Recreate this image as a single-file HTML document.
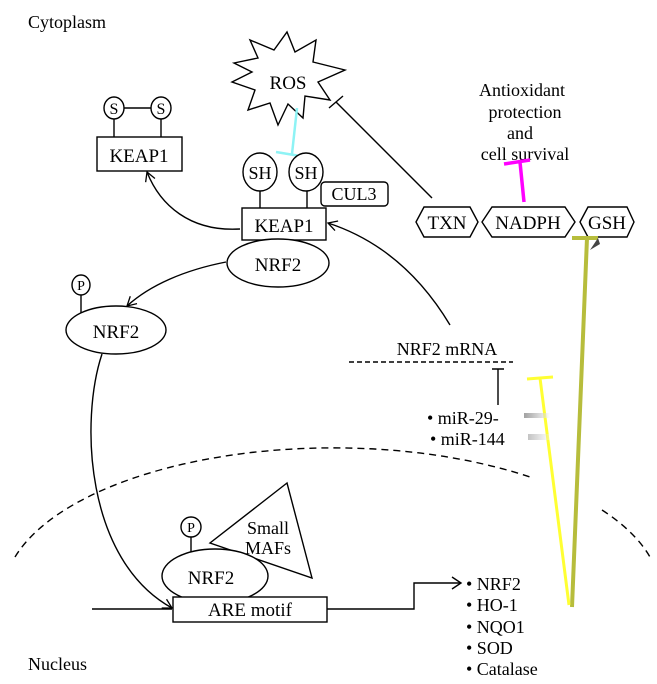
<!DOCTYPE html>
<html><head><meta charset="utf-8"><style>
html,body{margin:0;padding:0;background:#fff;}
svg{display:block;}
text{font-family:"Liberation Serif",serif;fill:#000;}
</style></head><body>
<svg width="657" height="684" viewBox="0 0 657 684">
<defs>
<marker id="ah" markerWidth="12" markerHeight="12" refX="10" refY="6" orient="auto" markerUnits="userSpaceOnUse">
<path d="M1,1 L10,6 L1,11" fill="none" stroke="#000" stroke-width="1.3"/>
</marker>
<linearGradient id="smudge" x1="0" x2="1" y1="0" y2="0">
<stop offset="0" stop-color="#555"/><stop offset="1" stop-color="#fff"/>
</linearGradient>
</defs>
<g stroke="#000" stroke-width="1.4" fill="none">
<text x="28" y="28" font-size="18" stroke="none">Cytoplasm</text>
<g>
<path d="M234,63 L258,58 L250,40 L274,50 L287,32 L295,52 L316,40 L313,62 L345,70 L318,82 L330,100 L305,96 L303,118 L288,104 L278,125 L270,103 L248,110 L255,90 L232,82 L252,72 Z" fill="#fff"/>
<text x="288" y="89" font-size="19" stroke="none" text-anchor="middle">ROS</text>
</g>
<path d="M432,198 L336,102"/>
<path d="M329,108 L343,96"/>
<path d="M297,108 L292,154 M276,152 L300,156" stroke="#8ef3f5" stroke-width="2.5"/>
<g>
<rect x="97" y="137" width="85" height="34" fill="#fff"/>
<text x="139" y="162" font-size="19" stroke="none" text-anchor="middle">KEAP1</text>
<line x1="114" y1="118" x2="114" y2="137"/><line x1="161" y1="118" x2="161" y2="137"/>
<line x1="123" y1="108" x2="152" y2="108"/>
<ellipse cx="114" cy="108" rx="10" ry="11" fill="#fff"/><ellipse cx="161" cy="108" rx="10" ry="11" fill="#fff"/>
<text x="114" y="114" font-size="16" stroke="none" text-anchor="middle">S</text>
<text x="161" y="114" font-size="16" stroke="none" text-anchor="middle">S</text>
</g>
<g>
<line x1="260" y1="190" x2="260" y2="208"/><line x1="307" y1="190" x2="307" y2="208"/>
<ellipse cx="260" cy="172" rx="17" ry="19" fill="#fff"/><ellipse cx="306" cy="172" rx="17" ry="19" fill="#fff"/>
<text x="260" y="179" font-size="18" stroke="none" text-anchor="middle">SH</text>
<text x="306" y="179" font-size="18" stroke="none" text-anchor="middle">SH</text>
<rect x="321" y="182" width="67" height="24" rx="4" fill="#fff"/>
<text x="354" y="200" font-size="18" stroke="none" text-anchor="middle">CUL3</text>
<rect x="242" y="208" width="84" height="32" fill="#fff"/>
<text x="284" y="232" font-size="19" stroke="none" text-anchor="middle">KEAP1</text>
<ellipse cx="278" cy="263" rx="51" ry="24" fill="#fff"/>
<text x="278" y="271" font-size="19" stroke="none" text-anchor="middle">NRF2</text>
</g>
<path d="M240,229 C190,232 160,205 147,172" marker-end="url(#ah)"/>
<path d="M226,262 C185,270 150,285 127,306" marker-end="url(#ah)"/>
<path d="M450,325 C420,275 380,240 328,223" marker-end="url(#ah)"/>
<g>
<line x1="81" y1="294" x2="81" y2="314"/>
<ellipse cx="81" cy="285" rx="9" ry="10" fill="#fff"/>
<text x="81" y="290" font-size="14" stroke="none" text-anchor="middle">P</text>
<ellipse cx="116" cy="330" rx="50" ry="24" fill="#fff"/>
<text x="116" y="338" font-size="19" stroke="none" text-anchor="middle">NRF2</text>
</g>
<path d="M102,354 C80,420 85,560 172,608" marker-end="url(#ah)"/>
<g>
<path d="M416,222 L424,207 L470,207 L478,222 L470,237 L424,237 Z" fill="#fff"/>
<text x="447" y="229" font-size="19" stroke="none" text-anchor="middle">TXN</text>
<path d="M482,222 L492,207 L565,207 L575,222 L565,237 L492,237 Z" fill="#fff"/>
<text x="528" y="229" font-size="19" stroke="none" text-anchor="middle">NADPH</text>
<path d="M580,222 L588,207 L627,207 L634,222 L627,237 L588,237 Z" fill="#fff"/>
<text x="607" y="229" font-size="19" stroke="none" text-anchor="middle">GSH</text>
</g>
<g font-size="18" stroke="none" text-anchor="middle">
<text x="522" y="96" stroke="none">Antioxidant</text>
<text x="525" y="118" stroke="none">protection</text>
<text x="520" y="139" stroke="none">and</text>
<text x="525" y="160" stroke="none">cell survival</text>
</g>
<path d="M524,202 L520,162 M504,164 L530,160" stroke="#ff00ff" stroke-width="3.5"/>
<path d="M587,238 L572,607 M572,238 L598,238" stroke="#b7bd3c" stroke-width="4"/>
<path d="M598,238 L590,250 L600,244 Z" fill="#444" stroke="none"/>
<path d="M569,605 L540,378 M527,379 L553,377" stroke="#ffff33" stroke-width="3"/>
<text x="447" y="355" font-size="18" stroke="none" text-anchor="middle">NRF2 mRNA</text>
<path d="M349,362 L513,362" stroke-dasharray="5,3"/>
<path d="M498,405 L498,369 M492,369 L504,369"/>
<text x="427" y="424" font-size="18" stroke="none">• miR-29-</text>
<text x="430" y="445" font-size="18" stroke="none">• miR-144</text>
<rect x="524" y="413" width="26" height="5" fill="url(#smudge)" stroke="none" opacity="0.55"/>
<rect x="528" y="434" width="22" height="6" fill="url(#smudge)" stroke="none" opacity="0.35"/>
<path d="M15,557 A330,148 0 0 1 530,477 M602,510 A330,148 0 0 1 650,557" stroke-dasharray="7,5"/>
<g>
<path d="M287,483 L210,543 L312,578 Z" fill="#fff"/>
<text x="268" y="534" font-size="18" stroke="none" text-anchor="middle">Small</text>
<text x="268" y="554" font-size="18" stroke="none" text-anchor="middle">MAFs</text>
<line x1="191" y1="536" x2="191" y2="552"/>
<ellipse cx="191" cy="527" rx="10" ry="10" fill="#fff"/>
<text x="191" y="532" font-size="14" stroke="none" text-anchor="middle">P</text>
<ellipse cx="215" cy="576" rx="53" ry="27" fill="#fff"/>
<text x="211" y="584" font-size="19" stroke="none" text-anchor="middle">NRF2</text>
</g>
<path d="M92,609 L172,609 M327,609 L414,609 L414,583 L460,583"/>
<path d="M452,577 L461,583 L452,589"/>
<rect x="173" y="597" width="154" height="25" fill="#fff"/>
<text x="250" y="616" font-size="19" stroke="none" text-anchor="middle">ARE motif</text>
<g font-size="18" stroke="none">
<text x="466" y="590" stroke="none">• NRF2</text>
<text x="466" y="611" stroke="none">• HO-1</text>
<text x="466" y="633" stroke="none">• NQO1</text>
<text x="466" y="654" stroke="none">• SOD</text>
<text x="466" y="675" stroke="none">• Catalase</text>
</g>
<text x="28" y="670" font-size="18" stroke="none">Nucleus</text>
</g>
</svg>
</body></html>
